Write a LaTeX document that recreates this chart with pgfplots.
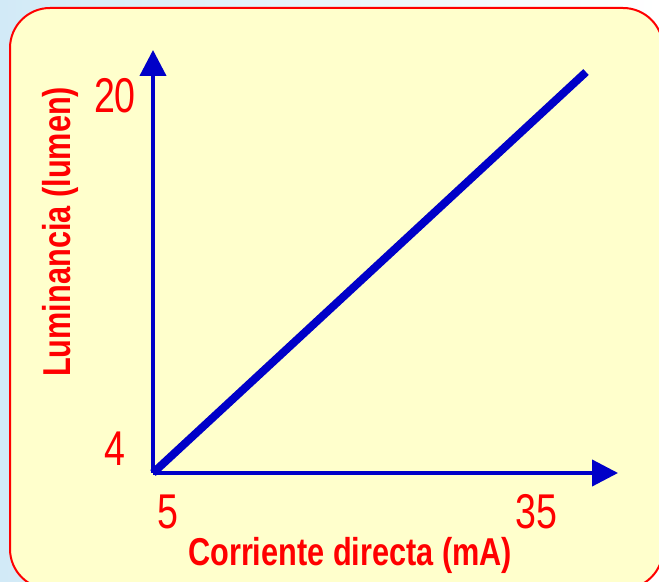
\documentclass[border=0pt]{standalone}
\usepackage{pgfplots}
\pgfplotsset{compat=1.18}
\usepackage{graphicx}
\usepackage{fontspec}
\setmainfont{Liberation Sans}
\usetikzlibrary{arrows.meta}
\definecolor{bgblue}{HTML}{D2EAF7}
\definecolor{panel}{HTML}{FFFFCC}
\definecolor{axblue}{HTML}{0000C8}
\newcommand{\lab}[1]{\bfseries\fontsize{39}{39}\selectfont\scalebox{0.79}[1]{#1}}
\newcommand{\tl}[1]{\fontsize{49}{49}\selectfont\scalebox{0.77}[1]{#1}}
\begin{document}
\begin{tikzpicture}[x=1bp,y=1bp]
\useasboundingbox (0,0) rectangle (659,582);
\shade[left color=bgblue, right color=white] (0,0) rectangle (659,582);
\filldraw[fill=panel, draw=red, line width=2bp, rounded corners=40bp] (10,-7) rectangle (663,574);
\begin{axis}[
  at={(153bp,109bp)}, anchor=south west,
  x=12.27bp, y=22.09bp,
  xmin=5, xmax=42.9, ymin=4, ymax=23.15,
  axis lines=left,
  axis line style={draw=axblue, line width=4bp, -{Triangle[length=26bp,width=26bp]}},
  xtick={5,35}, ytick={4,20},
  xticklabels={\tl{5},\tl{35}},
  yticklabels={\tl{4},\tl{20}},
  major tick length=0pt,
  xticklabel style={anchor=center, text=red, xshift=15bp, yshift=-39bp},
  yticklabel style={anchor=center, text=red, xshift=-38bp, yshift=24bp},
  xlabel={\lab{Corriente directa (mA)}},
  ylabel={\lab{Luminancia (lumen)}},
  xlabel style={at={(axis description cs:0.424,-0.194)}, anchor=center, text=red},
  ylabel style={at={(axis description cs:-0.2,0.57)}, anchor=center, rotate=0, text=red},
  clip=false,
]
\addplot[draw=axblue, line width=8bp, line cap=butt] coordinates {(5,4) (40.29,22.15)};
\end{axis}
\end{tikzpicture}
\end{document}
